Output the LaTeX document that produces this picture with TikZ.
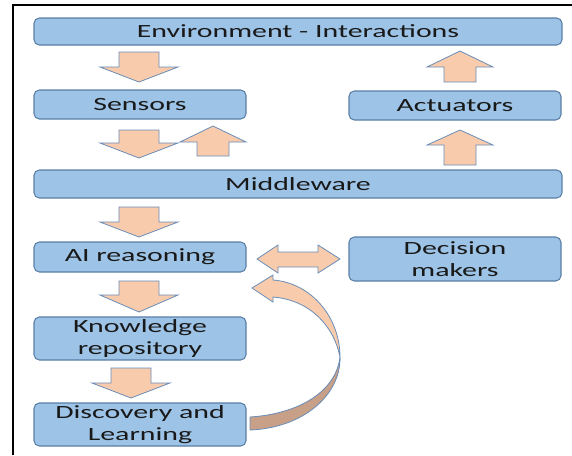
\documentclass[tikz,border=0pt]{standalone}
\usepackage{fontspec}
\setmainfont{Carlito}[FakeStretch=1.6]
\definecolor{boxfill}{HTML}{9DC3E6}
\definecolor{boxline}{HTML}{5A7FA8}
\definecolor{arrfill}{HTML}{F8CBAD}
\definecolor{arrline}{HTML}{6A8DB8}
\definecolor{arrdark}{HTML}{C8A088}
\newcommand\downarr[4]{% cx, top, headbase, tip
  \draw[blockarr] ({#1-20},#2) -- ({#1+20},#2) -- ({#1+20},#3) -- ({#1+39},#3) -- (#1,#4) -- ({#1-39},#3) -- ({#1-20},#3) -- cycle;}
\newcommand\uparr[4]{% cx, tip, headbase, bottom
  \draw[blockarr] (#1,#2) -- ({#1+33},#3) -- ({#1+16},#3) -- ({#1+16},#4) -- ({#1-16},#4) -- ({#1-16},#3) -- ({#1-33},#3) -- cycle;}
\begin{document}
\begin{tikzpicture}[x=0.75pt,y=-0.75pt,
  box/.style={draw=boxline, line width=0.8pt, fill=boxfill, rounded corners=4pt,
    inner sep=0pt, align=center, text=black!90,
    font=\fontsize{14}{17}\selectfont},
  blockarr/.style={draw=arrline, line width=0.6pt, fill=arrfill, line join=miter}]
\useasboundingbox (0,0) rectangle (572,455);
\fill[white] (0,0) rectangle (572,455);
% frame
\draw[black, line width=1.8pt] (13,455) -- (13,5) -- (572,5);
% boxes
\node[box, minimum width=396pt, minimum height=20.25pt] (env) at (298,31.5) {Environment - Interactions};
\node[box, minimum width=159pt, minimum height=21.75pt] (sens) at (140,104.5) {Sensors};
\node[box, minimum width=159pt, minimum height=21.75pt] (act) at (455,105.5) {Actuators};
\node[box, minimum width=396pt, minimum height=21pt] (mid) at (298,184) {Middleware};
\node[box, minimum width=159pt, minimum height=22.5pt] (ai) at (140,257) {AI reasoning};
\node[box, minimum width=159pt, minimum height=33pt] (dec) at (455,259) {Decision\\makers};
\node[box, minimum width=159pt, minimum height=32.25pt] (know) at (140,338.5) {Knowledge\\repository};
\node[box, minimum width=159pt, minimum height=32.25pt] (disc) at (140,424.5) {Discovery and\\Learning};
% block arrows
\downarr{139}{52}{67}{82}
\downarr{139}{130}{143}{158}
\uparr{213}{126}{142}{156}
\uparr{460}{51}{67}{82}
\uparr{460}{130}{145}{165}
\downarr{139}{207}{222}{237}
\downarr{139}{281}{295}{312}
\downarr{131}{368}{383}{398}
% double arrow
\draw[blockarr] (257,259) -- (278,245) -- (278,252) -- (318,252) -- (318,245) -- (340,259)
  -- (318,273) -- (318,267) -- (278,267) -- (278,273) -- cycle;
% curved arrow
\draw[blockarr, fill=arrdark] (340,357) .. controls (341,395) and (303,428) .. (250,430)
  -- (250,417) .. controls (298,414) and (336,392) .. (340,357);
\draw[blockarr] (252,288) -- (273,275) -- (273,280) .. controls (312,283) and (340,318) .. (340,357)
  .. controls (334,326) and (310,300) .. (273,297) -- (273,302) -- cycle;
\end{tikzpicture}
\end{document}
